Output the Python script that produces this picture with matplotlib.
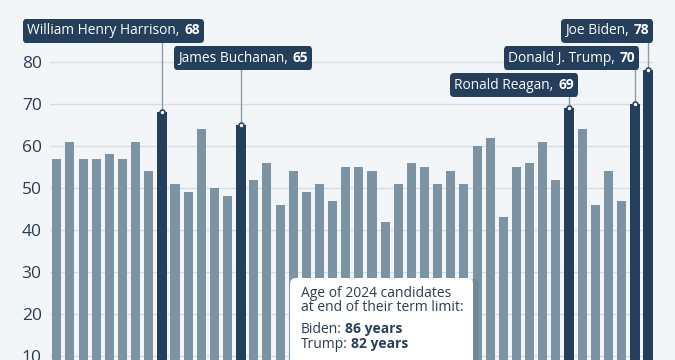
import numpy as np
import matplotlib.pyplot as plt
from matplotlib.offsetbox import TextArea, HPacker, AnnotationBbox
from matplotlib.patches import FancyBboxPatch
from matplotlib.transforms import IdentityTransform

# age at inauguration, every president in order (Cleveland counted twice)
ages = [57, 61, 57, 57, 58, 57, 61, 54, 68, 51, 49, 64, 50, 48, 65, 52, 56, 46,
        54, 49, 51, 47, 55, 55, 54, 42, 51, 56, 55, 51, 54, 51, 60, 62, 43, 55,
        56, 61, 52, 69, 64, 46, 54, 47, 70, 78]
highlight_idx = [8, 14, 39, 44, 45]
highlight_names = ["William Henry Harrison", "James Buchanan", "Ronald Reagan",
                   "Donald J. Trump", "Joe Biden"]
yticks = [10, 20, 30, 40, 50, 60, 70, 80]
box_title = ["Age of 2024 candidates", "at end of their term limit:"]
box_rows = [("Biden:", "86 years"), ("Trump:", "82 years")]

BG = "#f3f6f9"
LIGHT = "#7b93a3"
DARK = "#243f5c"
TXT = "#2b3d52"
GRID = "#d8dde2"
LINE = "#8d9ba8"

plt.rcParams["font.family"] = ["Open Sans", "DejaVu Sans"]

fig = plt.figure(figsize=(6.75, 3.6), dpi=100, facecolor=BG)
ax = fig.add_axes([50 / 675, 0, 603 / 675, 1])
ax.set_facecolor(BG)

x = np.arange(len(ages))
colors = [DARK if i in highlight_idx else LIGHT for i in x]
widths = [0.76 if i in highlight_idx else 0.69 for i in x]
ax.bar(x, ages, width=widths, color=colors, zorder=2)

ax.set_xlim(-0.52, 45.4)
ax.set_ylim(9.05, 94.76)
ax.set_yticks(yticks)
ax.set_xticks([])
ax.yaxis.grid(True, color=GRID, lw=1, zorder=0)
ax.set_axisbelow(True)
for s in ax.spines.values():
    s.set_visible(False)
ax.tick_params(axis="y", length=0, pad=6, labelsize=12.5, labelcolor=TXT)

# label placement: (box x in data units, row y, alignment)
label_pos = [(-2.27, 87.4, 0), (9.22, 80.95, 0), (39.4, 74.5, 1),
             (44.05, 80.95, 1), (45.12, 87.4, 1)]
for idx, name, (bx, by, al) in zip(highlight_idx, highlight_names, label_pos):
    v = ages[idx]
    ax.plot([idx, idx], [v, by], color=LINE, lw=1, zorder=3)
    ax.plot(idx, v, marker="o", ms=3.6, mfc="white", mec=DARK, mew=1.1, zorder=4)
    t1 = TextArea(name + ",", textprops=dict(color="white", fontsize=9.9))
    t2 = TextArea(str(v), textprops=dict(color="white", fontsize=9.9, weight="bold"))
    pack = HPacker(children=[t1, t2], sep=3.5, pad=0, align="baseline")
    ab = AnnotationBbox(pack, (idx, v), xybox=(bx, by), xycoords="data",
                        boxcoords="data", box_alignment=(al, 0.5),
                        frameon=True, pad=0.3, annotation_clip=False,
                        bboxprops=dict(boxstyle="round,pad=0.3,rounding_size=0.25",
                                       fc=DARK, ec="none"))
    ab.set_zorder(5)
    ax.add_artist(ab)

# info box (pixel coordinates, figure is 675x360)
H = 360
shadow = FancyBboxPatch((293, -20), 186, H - 278 + 20 - 1,
                        boxstyle="round,pad=0,rounding_size=6",
                        transform=IdentityTransform(), fc="#5f7585", ec="none",
                        alpha=0.35, zorder=6)
box = FancyBboxPatch((290, -20), 183, H - 278 + 20,
                     boxstyle="round,pad=0,rounding_size=6",
                     transform=IdentityTransform(), fc="white", ec="none", zorder=7)
fig.patches.extend([shadow, box])

fig.text(301, H - 297, box_title[0], transform=IdentityTransform(),
         fontsize=10, color=TXT, va="baseline", zorder=8)
fig.text(301, H - 311, box_title[1], transform=IdentityTransform(),
         fontsize=10, color=TXT, va="baseline", zorder=8)

fig.canvas.draw()
r = fig.canvas.get_renderer()
for (lab, val), yb in zip(box_rows, [333, 348]):
    t = fig.text(301, H - yb, lab, transform=IdentityTransform(),
                 fontsize=10, color=TXT, va="baseline", zorder=8)
    w = t.get_window_extent(r).width
    fig.text(301 + w + 3.5, H - yb, val, transform=IdentityTransform(),
             fontsize=10, color=DARK, weight="bold", va="baseline", zorder=8)

fig.savefig("out.png", dpi=100, facecolor=BG)
